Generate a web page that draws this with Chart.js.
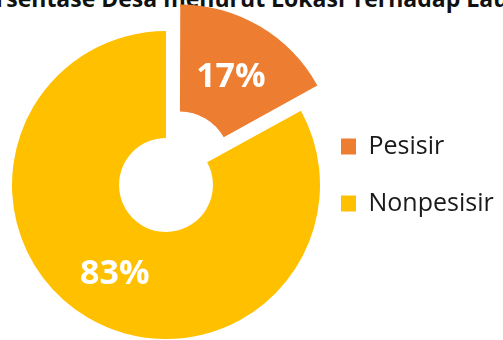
<!DOCTYPE html>
<html>
<head>
<meta charset="utf-8">
<script src="https://cdn.jsdelivr.net/npm/chart.js@4.4.1/dist/chart.umd.min.js"></script>
<style>
  html, body { margin: 0; padding: 0; overflow: hidden; background: #fff; }
  body { width: 503px; height: 340px; position: relative; }
  #title {
    position: absolute; left: -157px; top: -13px; width: 800px;
    text-align: center; white-space: nowrap;
    font: bold 23px/23px "Open Sans", sans-serif; color: #111;
  }
  #wrap { position: absolute; left: 0; top: 0; width: 520px; height: 340px; }
</style>
</head>
<body>
<div id="title">Persentase Desa menurut Lokasi Terhadap Laut</div>
<div id="wrap"><canvas id="lokasiChart" width="520" height="340"></canvas></div>
<script>
const categories = ['Pesisir', 'Nonpesisir'];
const values = [17, 83];
const sliceColors = ['#ED7D31', '#FFC000'];
const sliceOffsets = [108, 0];

const legendFont = { family: 'Open Sans', size: 25, lineHeight: 1.8 };
const legendPad = 12;
const legendBox = 15;

// white percentage text in the middle of each slice
const sliceLabels = {
  id: 'sliceLabels',
  afterDatasetsDraw(chart) {
    const ctx = chart.ctx;
    const meta = chart.getDatasetMeta(0);
    const size = 34;
    ctx.save();
    ctx.font = `bold ${size}px "Open Sans"`;
    ctx.fillStyle = '#fff';
    ctx.textAlign = 'center';
    ctx.textBaseline = 'alphabetic';
    meta.data.forEach((arc, i) => {
      const p = arc.getProps(['x', 'y', 'startAngle', 'endAngle', 'innerRadius', 'outerRadius'], true);
      const mid = (p.startAngle + p.endAngle) / 2;
      const r = (p.innerRadius + p.outerRadius) / 2 + (arc.options.offset || 0) / 4;
      const cx = p.x + Math.cos(mid) * r;
      const cy = p.y + Math.sin(mid) * r;
      ctx.fillText(`${values[i]}%`, cx, cy + size * 0.357);
    });
    ctx.restore();
  }
};

// natural width of the legend box, so it can be placed at a fixed x
function legendWidth() {
  const c = document.createElement('canvas').getContext('2d');
  c.font = `${legendFont.size}px "${legendFont.family}"`;
  const textW = Math.max(...categories.map(t => c.measureText(t).width));
  return legendPad + legendBox + legendFont.size / 2 + textW + 10;
}

function initChart() {
  const ctx = document.getElementById('lokasiChart').getContext('2d');
  const padRight = Math.max(520 - 329 - legendWidth(), 0);
  new Chart(ctx, {
    type: 'doughnut',
    data: {
      labels: categories,
      datasets: [{
        data: values,
        backgroundColor: sliceColors,
        borderWidth: 0,
        offset: sliceOffsets
      }]
    },
    options: {
      responsive: false,
      animation: false,
      radius: 154,
      cutout: '30.5%',
      layout: { padding: { left: 3, right: padRight, top: 30, bottom: 0 } },
      plugins: {
        tooltip: { enabled: false },
        legend: {
          position: 'right',
          labels: {
            boxWidth: legendBox,
            boxHeight: 16,
            padding: legendPad,
            color: '#1a1a1a',
            font: legendFont,
            generateLabels: chart => {
              const items = Chart.overrides.doughnut.plugins.legend.labels.generateLabels(chart);
              return items.map(it => ({ ...it, text: [it.text] }));
            }
          }
        }
      }
    },
    plugins: [sliceLabels]
  });
}

initChart();
</script>
</body>
</html>
